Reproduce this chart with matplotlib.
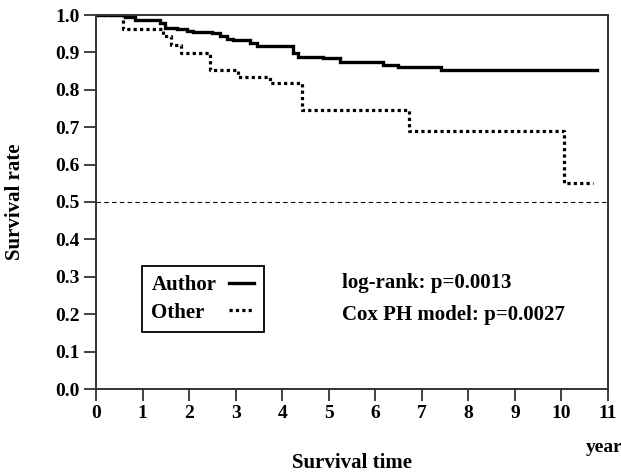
#!/usr/bin/env python3
"""Kaplan-Meier style survival curves: Author vs Other."""
import matplotlib
matplotlib.use("Agg")
import matplotlib.pyplot as plt

# step curves (time in years, survival after the step)
author_t = [0, 0.62, 0.84, 1.37, 1.48, 1.74, 1.95, 2.08, 2.49, 2.66, 2.81,
            2.94, 3.30, 3.45, 4.23, 4.33, 4.87, 5.24, 6.16, 6.48, 7.42, 10.77]
author_s = [1.0, 0.995, 0.987, 0.978, 0.966, 0.963, 0.958, 0.955, 0.951, 0.945,
            0.937, 0.933, 0.924, 0.918, 0.898, 0.889, 0.884, 0.875, 0.866,
            0.860, 0.853, 0.853]

other_t = [0, 0.58, 1.45, 1.62, 1.82, 2.45, 3.05, 3.73, 4.42, 6.72, 10.06, 10.67]
other_s = [1.0, 0.963, 0.945, 0.92, 0.898, 0.853, 0.835, 0.817, 0.746, 0.690,
           0.551, 0.551]

x_ticks = list(range(0, 12))
y_ticks = [i / 10 for i in range(0, 11)]
median_line = 0.5
stats_text = ["log-rank: p=0.0013", "Cox PH model: p=0.0027"]

FONT = "Liberation Serif"
plt.rcParams["font.family"] = [FONT, "DejaVu Serif"]
plt.rcParams["font.weight"] = "bold"

fig = plt.figure(figsize=(6.21, 4.72), dpi=100)
ax = fig.add_axes([96 / 621, 1 - 389 / 472, 512 / 621, 374 / 472])

ax.plot(author_t, author_s, drawstyle="steps-post", color="black", lw=2.4,
        solid_joinstyle="miter", label="Author")
ax.plot(other_t, other_s, drawstyle="steps-post", color="black", lw=2.3,
        linestyle=(0, (1, 1)), label="Other")
ax.axhline(median_line, color="black", lw=0.8, linestyle=(0, (4, 3)))

ax.set_xlim(0, 11)
ax.set_ylim(0, 1.0)
ax.set_xticks(x_ticks)
ax.set_yticks(y_ticks)
ax.set_yticklabels([f"{v:.1f}" for v in y_ticks])
ax.tick_params(direction="out", length=8.5, width=1.3, labelsize=14, pad=3,
               color="#333333")
for lab in ax.get_xticklabels() + ax.get_yticklabels():
    lab.set_fontweight("bold")
for sp in ax.spines.values():
    sp.set_linewidth(1.4)
    sp.set_color("#333333")

leg = ax.legend(loc="lower left", bbox_to_anchor=(0.09, 0.152), markerfirst=False,
                fancybox=False, edgecolor="black", framealpha=1, handlelength=1.2,
                handletextpad=0.8, borderpad=0.45, labelspacing=0.35,
                borderaxespad=0,
                prop={"family": FONT, "weight": "bold", "size": 15})
leg.get_frame().set_linewidth(1.3)
# label text flush left, line sample flush right (fixed row width, px at dpi 100)
for col in leg._legend_handle_box.get_children():
    for row in col.get_children():
        row.mode = "expand"
        row.width = 103

ax.text(5.28, 0.283, stats_text[0], fontsize=15, fontweight="bold", va="center")
ax.text(5.28, 0.198, stats_text[1], fontsize=15, fontweight="bold", va="center")

fig.text(352 / 621, 1 - 463 / 472, "Survival time", ha="center", va="center",
         fontsize=15, fontweight="bold")
fig.text(604 / 621, 1 - 447 / 472, "year", ha="center", va="center",
         fontsize=14, fontweight="bold")
fig.text(15 / 621, 1 - 202 / 472, "Survival rate", ha="center", va="center",
         rotation=90, fontsize=15, fontweight="bold")

fig.savefig("out.png", dpi=100)
plt.close(fig)
